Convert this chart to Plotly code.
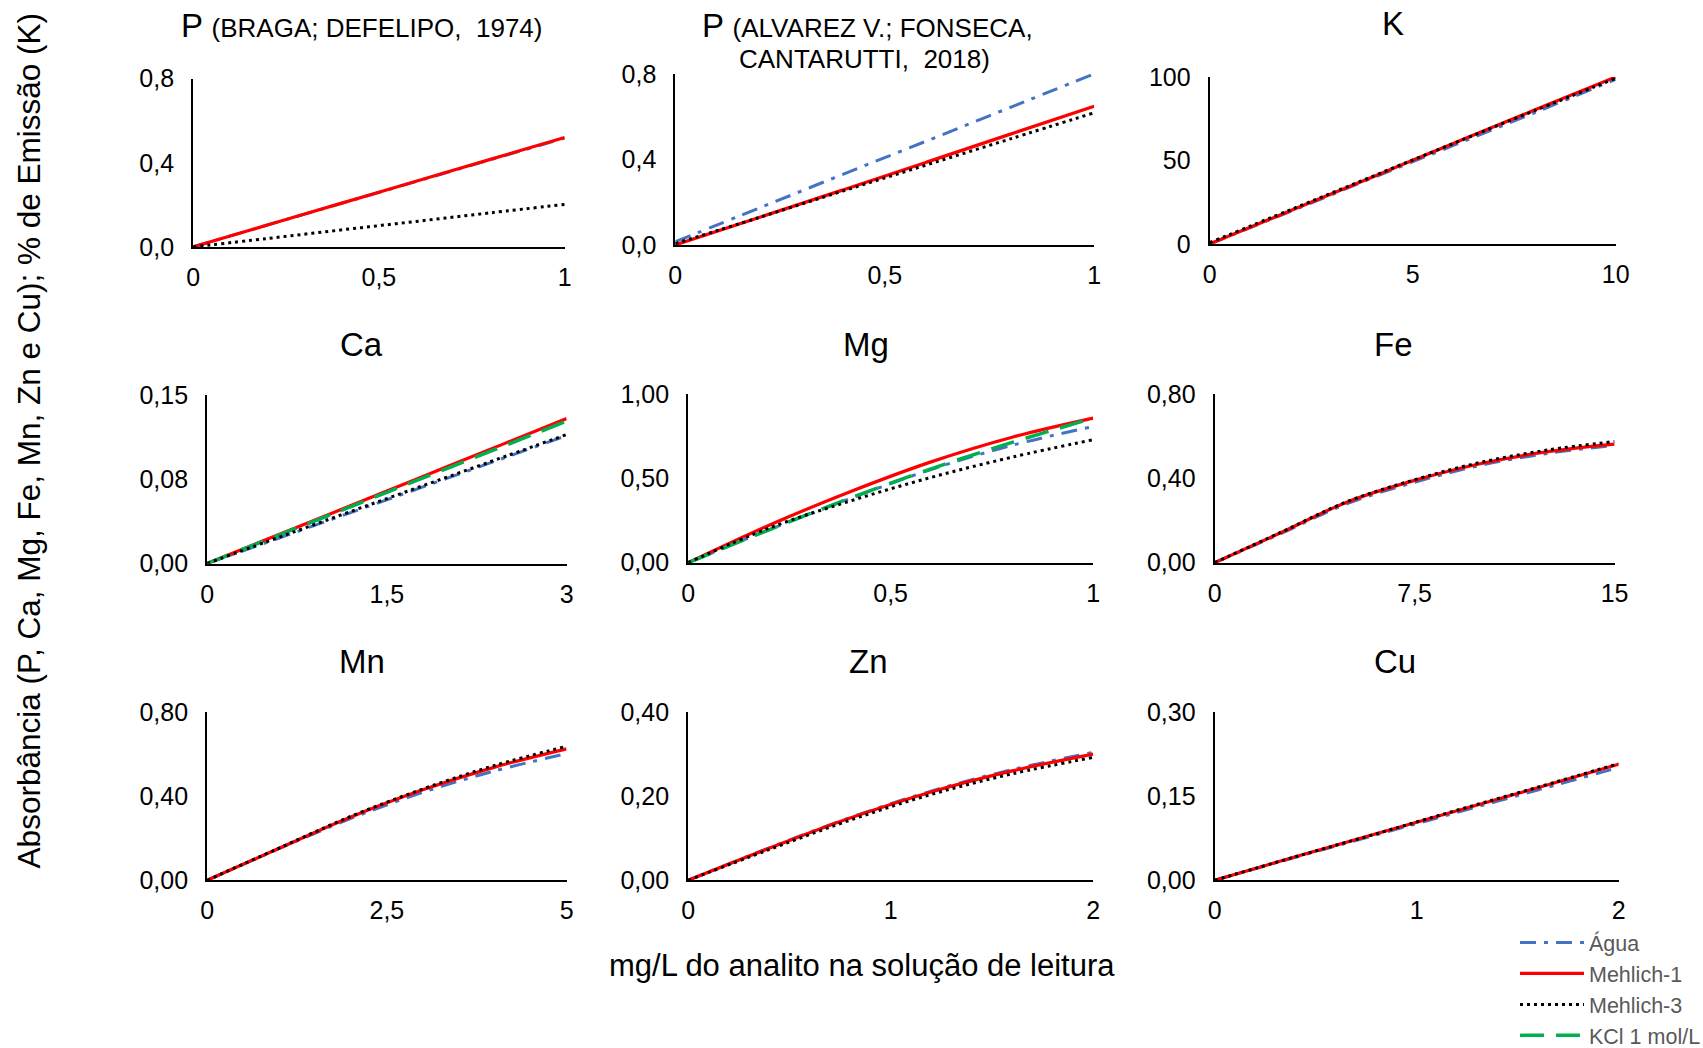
import plotly.graph_objects as go

# ---------------------------------------------------------------------------
# Calibration curves: absorbance (P, Ca, Mg, Fe, Mn, Zn, Cu) or % emission (K)
# versus analyte concentration (mg/L) in the reading solution, per extractant.
# ---------------------------------------------------------------------------

# P (Braga; Defelipo, 1974)
P_BRAGA_X = [0, 0.2, 0.4, 0.6, 0.8, 1.0]
P_BRAGA_AGUA = [0, 0.104, 0.207, 0.311, 0.414, 0.517]
P_BRAGA_M1 = [0, 0.104, 0.208, 0.312, 0.416, 0.520]
P_BRAGA_M3 = [0, 0.040, 0.081, 0.121, 0.162, 0.202]

# P (Alvarez V.; Fonseca, Cantarutti, 2018)
P_ALV_X = [0, 0.2, 0.4, 0.6, 0.8, 1.0]
P_ALV_AGUA = [0.015, 0.172, 0.330, 0.486, 0.643, 0.800]
P_ALV_M1 = [0, 0.128, 0.257, 0.387, 0.518, 0.648]
P_ALV_M3 = [0.006, 0.128, 0.252, 0.374, 0.496, 0.618]

# K
K_X = [0, 2, 4, 6, 8, 10]
K_AGUA = [0, 19.6, 39.4, 59.0, 78.6, 98.6]
K_M1 = [0, 20.0, 40.0, 60.2, 80.2, 100.0]
K_M3 = [0.8, 20.6, 40.4, 60.2, 79.8, 99.2]

# Ca
CA_X = [0, 0.5, 1.0, 1.5, 2.0, 2.5, 3.0]
CA_AGUA = [0, 0.0188, 0.0378, 0.0567, 0.0757, 0.0948, 0.1138]
CA_M1 = [0, 0.0215, 0.0430, 0.0645, 0.0861, 0.1076, 0.1290]
CA_M3 = [0, 0.0195, 0.0387, 0.0578, 0.0768, 0.0958, 0.1148]
CA_KCL = [0, 0.0211, 0.0422, 0.0634, 0.0845, 0.1056, 0.1268]

# Mg
MG_X = [0, 0.2, 0.4, 0.6, 0.8, 1.0]
MG_AGUA = [0, 0.195, 0.380, 0.552, 0.695, 0.806]
MG_M1 = [0, 0.222, 0.420, 0.597, 0.743, 0.856]
MG_M3 = [0, 0.205, 0.365, 0.505, 0.625, 0.728]
MG_KCL = [0, 0.195, 0.382, 0.556, 0.712, 0.856]

# Fe
FE_X = [0, 2.5, 5, 7.5, 10, 12.5, 15]
FE_AGUA = [0, 0.139, 0.281, 0.381, 0.462, 0.518, 0.556]
FE_M1 = [0, 0.143, 0.289, 0.390, 0.470, 0.526, 0.562]
FE_M3 = [0, 0.145, 0.291, 0.393, 0.476, 0.534, 0.574]

# Mn
MN_X = [0, 1, 2, 3, 4, 5]
MN_AGUA = [0, 0.150, 0.294, 0.418, 0.520, 0.602]
MN_M1 = [0, 0.152, 0.301, 0.430, 0.538, 0.625]
MN_M3 = [0, 0.153, 0.304, 0.434, 0.546, 0.637]

# Zn
ZN_X = [0, 0.4, 0.8, 1.2, 1.6, 2.0]
ZN_AGUA = [0, 0.077, 0.149, 0.212, 0.263, 0.304]
ZN_M1 = [0, 0.076, 0.148, 0.210, 0.260, 0.300]
ZN_M3 = [0, 0.073, 0.143, 0.204, 0.253, 0.292]

# Cu
CU_X = [0, 0.4, 0.8, 1.2, 1.6, 2.0]
CU_AGUA = [0, 0.041, 0.081, 0.121, 0.161, 0.201]
CU_M1 = [0, 0.042, 0.083, 0.124, 0.165, 0.207]
CU_M3 = [0, 0.042, 0.083, 0.125, 0.166, 0.208]

# Axis ticks (values and labels) per panel
P_X_TICKS = [0, 0.5, 1]
P_X_LABELS = ["0", "0,5", "1"]
P_Y_TICKS = [0, 0.4, 0.8]
P_Y_LABELS = ["0,0", "0,4", "0,8"]
K_X_TICKS = [0, 5, 10]
K_X_LABELS = ["0", "5", "10"]
K_Y_TICKS = [0, 50, 100]
K_Y_LABELS = ["0", "50", "100"]
CA_X_TICKS = [0, 1.5, 3]
CA_X_LABELS = ["0", "1,5", "3"]
CA_Y_TICKS = [0, 0.075, 0.15]
CA_Y_LABELS = ["0,00", "0,08", "0,15"]
MG_X_TICKS = [0, 0.5, 1]
MG_X_LABELS = ["0", "0,5", "1"]
MG_Y_TICKS = [0, 0.5, 1.0]
MG_Y_LABELS = ["0,00", "0,50", "1,00"]
FE_X_TICKS = [0, 7.5, 15]
FE_X_LABELS = ["0", "7,5", "15"]
FE_Y_TICKS = [0, 0.4, 0.8]
FE_Y_LABELS = ["0,00", "0,40", "0,80"]
MN_X_TICKS = [0, 2.5, 5]
MN_X_LABELS = ["0", "2,5", "5"]
MN_Y_TICKS = [0, 0.4, 0.8]
MN_Y_LABELS = ["0,00", "0,40", "0,80"]
ZN_X_TICKS = [0, 1, 2]
ZN_X_LABELS = ["0", "1", "2"]
ZN_Y_TICKS = [0, 0.2, 0.4]
ZN_Y_LABELS = ["0,00", "0,20", "0,40"]
CU_X_TICKS = [0, 1, 2]
CU_X_LABELS = ["0", "1", "2"]
CU_Y_TICKS = [0, 0.15, 0.30]
CU_Y_LABELS = ["0,00", "0,15", "0,30"]

AGUA, M1, M3, KCL = "Água", "Mehlich-1", "Mehlich-3", "KCl 1 mol/L"

# ---------------------------------------------------------------------------
# Styling and layout
# ---------------------------------------------------------------------------
W, H = 1703, 1048
FONT = "Liberation Sans, Arial, Helvetica, sans-serif"
TITLE_SIZE = 33
SUB_SIZE = 26
TICK_SIZE = 25

STYLE = {
    AGUA: dict(color="#4472C4", width=3, dash="16px,8px,4px,8px"),
    M1: dict(color="#FF0000", width=3.2, dash="solid"),
    KCL: dict(color="#00B050", width=3.5, dash="24px,12px"),
    M3: dict(color="#000000", width=3, dash="3px,4px"),
}
DRAW_ORDER = [AGUA, M1, KCL, M3]
LEGEND_RANK = {AGUA: 1, M1: 2, M3: 3, KCL: 4}


def ptitle(ref):
    return "P <span style='font-size:%dpx'>%s</span>" % (SUB_SIZE, ref)


# panel boxes in pixels: (left, top, right, bottom); title centre (x, y) in pixels
PANELS = [
    dict(title=ptitle("(BRAGA; DEFELIPO,  1974)"), tpos=(361, 25.7),
         x=P_BRAGA_X, series={AGUA: P_BRAGA_AGUA, M1: P_BRAGA_M1, M3: P_BRAGA_M3},
         xt=(P_X_TICKS, P_X_LABELS), yt=(P_Y_TICKS, P_Y_LABELS),
         box=(193.1, 78.6, 564.7, 246.9)),
    dict(title=None, tpos=None,
         x=P_ALV_X, series={AGUA: P_ALV_AGUA, M1: P_ALV_M1, M3: P_ALV_M3},
         xt=(P_X_TICKS, P_X_LABELS), yt=(P_Y_TICKS, P_Y_LABELS),
         box=(675.3, 73.8, 1094.2, 244.9)),
    dict(title="K", tpos=(1393.2, 23.6),
         x=K_X, series={AGUA: K_AGUA, M1: K_M1, M3: K_M3},
         xt=(K_X_TICKS, K_X_LABELS), yt=(K_Y_TICKS, K_Y_LABELS),
         box=(1209.6, 77.0, 1615.7, 244.0)),
    dict(title="Ca", tpos=(361.2, 344),
         x=CA_X, series={AGUA: CA_AGUA, M1: CA_M1, KCL: CA_KCL, M3: CA_M3},
         xt=(CA_X_TICKS, CA_X_LABELS), yt=(CA_Y_TICKS, CA_Y_LABELS),
         box=(207.1, 395.0, 566.6, 563.5)),
    dict(title="Mg", tpos=(865.9, 344),
         x=MG_X, series={AGUA: MG_AGUA, M1: MG_M1, KCL: MG_KCL, M3: MG_M3},
         xt=(MG_X_TICKS, MG_X_LABELS), yt=(MG_Y_TICKS, MG_Y_LABELS),
         box=(688.1, 393.8, 1093.1, 562.7)),
    dict(title="Fe", tpos=(1393.4, 344),
         x=FE_X, series={AGUA: FE_AGUA, M1: FE_M1, M3: FE_M3},
         xt=(FE_X_TICKS, FE_X_LABELS), yt=(FE_Y_TICKS, FE_Y_LABELS),
         box=(1214.6, 393.8, 1614.6, 562.7)),
    dict(title="Mn", tpos=(362.1, 661.8),
         x=MN_X, series={AGUA: MN_AGUA, M1: MN_M1, M3: MN_M3},
         xt=(MN_X_TICKS, MN_X_LABELS), yt=(MN_Y_TICKS, MN_Y_LABELS),
         box=(207.1, 712.0, 566.6, 880.3)),
    dict(title="Zn", tpos=(868, 661.8),
         x=ZN_X, series={AGUA: ZN_AGUA, M1: ZN_M1, M3: ZN_M3},
         xt=(ZN_X_TICKS, ZN_X_LABELS), yt=(ZN_Y_TICKS, ZN_Y_LABELS),
         box=(688.1, 712.0, 1093.1, 880.3)),
    dict(title="Cu", tpos=(1394.5, 661.8),
         x=CU_X, series={AGUA: CU_AGUA, M1: CU_M1, M3: CU_M3},
         xt=(CU_X_TICKS, CU_X_LABELS), yt=(CU_Y_TICKS, CU_Y_LABELS),
         box=(1214.6, 712.0, 1618.6, 880.3)),
]

fig = go.Figure()
shown = set()
layout_axes = {}
for i, p in enumerate(PANELS):
    n = i + 1
    sfx = "" if n == 1 else str(n)
    for name in DRAW_ORDER:
        if name not in p["series"]:
            continue
        st = STYLE[name]
        fig.add_trace(go.Scatter(
            x=p["x"], y=p["series"][name],
            xaxis="x" + sfx, yaxis="y" + sfx,
            mode="lines", name=name, legendgroup=name,
            legendrank=LEGEND_RANK[name],
            showlegend=name not in shown,
            line=dict(color=st["color"], width=st["width"], dash=st["dash"],
                      shape="spline", smoothing=1.0),
            hoverinfo="x+y+name",
        ))
        shown.add(name)

    left, top, right, bottom = p["box"]
    xt, yt = p["xt"], p["yt"]
    common = dict(showline=True, linecolor="black", linewidth=2, mirror=False,
                  showgrid=False, zeroline=False, ticks="",
                  tickfont=dict(family=FONT, size=TICK_SIZE, color="black"))
    layout_axes["xaxis" + sfx] = dict(
        domain=[left / W, right / W], anchor="y" + sfx,
        range=[xt[0][0], xt[0][-1]], tickmode="array",
        tickvals=xt[0], ticktext=xt[1], ticklabelstandoff=7, **common)
    layout_axes["yaxis" + sfx] = dict(
        domain=[1 - bottom / H, 1 - top / H], anchor="x" + sfx,
        range=[yt[0][0], yt[0][-1]], tickmode="array",
        tickvals=yt[0], ticktext=yt[1], ticklabelstandoff=12, **common)

fig.update_layout(**layout_axes)

annotations = []
for p in PANELS:
    if p["title"] is None:
        continue
    annotations.append(dict(
        text=p["title"], x=p["tpos"][0] / W, y=1 - p["tpos"][1] / H,
        xref="paper", yref="paper", xanchor="center", yanchor="middle",
        showarrow=False, font=dict(family=FONT, size=TITLE_SIZE, color="black")))

# two-line title for the second P panel
annotations.append(dict(
    text=ptitle("(ALVAREZ V.; FONSECA,"), x=867 / W, y=1 - 25.7 / H,
    xref="paper", yref="paper", xanchor="center", yanchor="middle",
    showarrow=False, font=dict(family=FONT, size=TITLE_SIZE, color="black")))
annotations.append(dict(
    text="CANTARUTTI,  2018)", x=864.8 / W, y=1 - 59.4 / H,
    xref="paper", yref="paper", xanchor="center", yanchor="middle",
    showarrow=False, font=dict(family=FONT, size=SUB_SIZE, color="black")))

# shared axis titles
annotations.append(dict(
    text="Absorbância (P, Ca, Mg, Fe, Mn, Zn e Cu); % de Emissão (K)",
    x=29 / W, y=1 - 441.4 / H, xref="paper", yref="paper",
    xanchor="center", yanchor="middle", textangle=-90, showarrow=False,
    font=dict(family=FONT, size=31.5, color="black")))
annotations.append(dict(
    text="mg/L do analito na solução de leitura",
    x=862 / W, y=1 - 965.1 / H, xref="paper", yref="paper",
    xanchor="center", yanchor="middle", showarrow=False,
    font=dict(family=FONT, size=31, color="black")))

fig.update_layout(
    width=W, height=H,
    # fixed margins: the legend sits in the bottom-right corner and may run
    # off the page edge without shrinking the panels
    margin=dict(l=0, r=0, t=0, b=0, autoexpand=False),
    paper_bgcolor="white", plot_bgcolor="white",
    font=dict(family=FONT, color="black"),
    annotations=annotations,
    showlegend=True,
    legend=dict(x=1515 / W, y=1 - 922 / H, xanchor="left", yanchor="top",
                font=dict(family=FONT, size=21.5, color="#595959"),
                bgcolor="rgba(0,0,0,0)", itemwidth=64, tracegroupgap=0,
                traceorder="normal"),
)

fig.write_html("out.html")
